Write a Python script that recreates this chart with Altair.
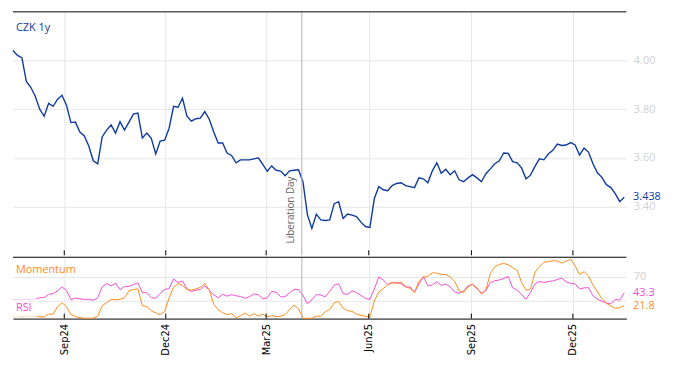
import altair as alt
import pandas as pd

# ---- data (one value every 4 days) ----
start_date = "2024-07-17"
end_date = "2026-01-18"
czk = [4.041, 4.021, 4.012, 3.914, 3.890, 3.853, 3.800, 3.771, 3.824, 3.812,
       3.841, 3.857, 3.816, 3.745, 3.747, 3.706, 3.690, 3.649, 3.588, 3.576,
       3.686, 3.714, 3.735, 3.702, 3.749, 3.714, 3.747, 3.780, 3.784, 3.682,
       3.702, 3.680, 3.616, 3.669, 3.673, 3.722, 3.812, 3.808, 3.845, 3.771,
       3.751, 3.761, 3.763, 3.790, 3.759, 3.706, 3.661, 3.661, 3.620, 3.610,
       3.580, 3.592, 3.592, 3.592, 3.596, 3.600, 3.573, 3.545, 3.567, 3.549,
       3.546, 3.527, 3.547, 3.549, 3.551, 3.502, 3.367, 3.310, 3.369, 3.345,
       3.343, 3.345, 3.412, 3.420, 3.351, 3.369, 3.365, 3.359, 3.336, 3.318,
       3.314, 3.433, 3.482, 3.469, 3.465, 3.486, 3.495, 3.498, 3.486, 3.482,
       3.478, 3.518, 3.514, 3.498, 3.547, 3.580, 3.537, 3.553, 3.531, 3.547,
       3.510, 3.502, 3.518, 3.531, 3.518, 3.502, 3.535, 3.555, 3.576, 3.588,
       3.620, 3.618, 3.585, 3.580, 3.559, 3.514, 3.529, 3.565, 3.596, 3.592,
       3.616, 3.631, 3.657, 3.651, 3.653, 3.663, 3.653, 3.612, 3.640, 3.624,
       3.576, 3.539, 3.520, 3.490, 3.478, 3.453, 3.420, 3.438]
rsi = [31.7, 32.5, 31.7, 33.3, 30.8, 33.3, 35.0, 35.5, 40.8, 42.0,
       46.7, 53.3, 47.5, 31.7, 34.5, 33.3, 32.2, 32.5, 30.8, 35.0,
       53.3, 59.2, 55.0, 59.7, 48.8, 53.7, 54.0, 57.3, 60.0, 44.2,
       43.3, 35.0, 34.2, 42.5, 49.2, 50.3, 66.7, 60.8, 63.3, 50.0,
       45.3, 48.0, 48.8, 55.0, 47.2, 40.0, 35.0, 40.8, 37.8, 40.3,
       38.3, 37.3, 34.2, 36.7, 41.7, 40.0, 33.3, 35.0, 45.8, 44.2,
       36.7, 36.7, 43.3, 49.2, 49.0, 39.2, 25.0, 31.7, 40.3, 39.7,
       36.7, 45.8, 56.2, 58.7, 41.7, 40.8, 46.7, 44.0, 39.2, 34.0,
       32.3, 50.0, 70.3, 65.0, 57.5, 60.0, 60.8, 58.8, 53.3, 53.3,
       44.2, 58.3, 70.8, 55.0, 56.7, 62.0, 55.8, 58.3, 53.3, 45.0,
       42.5, 46.7, 55.0, 57.5, 50.0, 43.3, 47.0, 60.7, 63.7, 65.0,
       67.5, 70.7, 52.0, 48.0, 40.8, 32.5, 44.2, 58.3, 62.5, 60.8,
       62.5, 63.3, 65.8, 68.3, 61.7, 59.2, 58.3, 50.0, 51.7, 52.0,
       38.3, 32.7, 29.2, 26.2, 24.7, 32.5, 30.8, 43.3]
mom = [3.3, 4.2, 2.5, 5.0, 3.3, 4.2, 3.3, 2.5, 7.5, 7.5,
       20.0, 26.7, 20.0, 6.7, 3.3, 1.7, 0.5, 0.5, 0.5, 4.2,
       21.7, 26.7, 32.2, 31.7, 32.5, 35.0, 46.7, 49.0, 50.0, 21.7,
       20.3, 13.3, 9.2, 6.7, 11.7, 35.0, 52.5, 58.8, 55.8, 49.2,
       48.0, 50.0, 52.5, 58.7, 48.3, 24.2, 15.0, 10.0, 6.7, 8.3,
       1.2, 5.0, 9.5, 4.2, 8.3, 4.5, 7.5, 2.8, 5.0, 3.3,
       3.8, 6.7, 15.0, 22.8, 16.7, 0.5, 0.5, 0.5, 4.2, 3.7,
       11.7, 15.3, 26.7, 28.7, 17.5, 13.3, 12.2, 7.5, 5.5, 4.0,
       2.2, 30.0, 45.0, 50.5, 57.2, 61.2, 59.0, 61.7, 54.2, 50.8,
       44.2, 62.8, 69.8, 71.3, 77.0, 76.7, 74.2, 74.3, 70.0, 62.8,
       47.0, 44.0, 53.3, 58.3, 51.7, 41.3, 48.3, 75.7, 87.3, 91.3,
       92.8, 90.7, 86.0, 81.3, 60.8, 47.5, 50.0, 77.8, 87.5, 94.5,
       96.0, 97.3, 97.3, 93.3, 96.7, 100.0, 88.7, 74.2, 79.0, 71.7,
       56.7, 45.0, 34.3, 25.7, 21.2, 17.2, 18.3, 21.8]
tick_dates = ["2024-09-01", "2024-12-01", "2025-03-01",
              "2025-06-01", "2025-09-01", "2025-12-01"]
lib_date = "2025-04-02"
czk_ticks = [3.4, 3.6, 3.8, 4.0]
ind_ticks = [30, 70]

BLUE = "#0f3a9e"
ORANGE = "#ff8c1a"
PINK = "#f54bd4"
GRID = "#e6e6e6"
LIGHT = "#d0d0d0"
FONT = "Open Sans"

W, H1, H2 = 620, 246, 62

dates = pd.date_range(start_date, periods=len(czk), freq="4D")
df = pd.DataFrame({"date": dates.strftime("%Y-%m-%dT00:00:00"),
                   "czk": czk, "rsi": rsi, "mom": mom})
last_df = df.iloc[[-1]]
ticks_df = pd.DataFrame({"date": [d + "T00:00:00" for d in tick_dates]})
lib_df = pd.DataFrame({"date": [lib_date + "T00:00:00"], "label": ["Liberation Day"]})
one = pd.DataFrame({"a": [0]})


def dt(s):
    t = pd.Timestamp(s)
    return alt.DateTime(year=t.year, month=t.month, date=t.day)


xscale = alt.Scale(domain=[dt(start_date), dt(end_date)])
tick_vals = [dt(s) for s in tick_dates]

# identical axis specs reused in every layer so that they merge cleanly
x_axis_top = alt.Axis(values=tick_vals, labels=False, ticks=False, domain=False,
                      grid=True, gridColor=GRID, title=None)
x_axis_bot = alt.Axis(values=tick_vals, format="%b%y", labelAngle=270,
                      labelAlign="right", labelBaseline="middle", labelPadding=5,
                      labelFontSize=10, labelFont="DejaVu Sans", labelColor="black",
                      ticks=False, domain=True, domainColor="black", domainWidth=1,
                      grid=True, gridColor=GRID, title=None)
y_axis_czk = alt.Axis(orient="right", values=czk_ticks, format=".2f",
                      labelColor=LIGHT, labelFontSize=11, labelFont=FONT,
                      labelPadding=7, domain=False, ticks=False, grid=True,
                      gridColor=GRID, title=None)
y_axis_ind = alt.Axis(orient="right", values=ind_ticks,
                      labelExpr="datum.value == 70 ? '70' : ''",
                      labelColor=LIGHT, labelFontSize=11, labelFont=FONT,
                      labelPadding=7, domain=False, ticks=False, grid=True,
                      gridColor=GRID, title=None)
yscale_czk = alt.Scale(domain=[3.2, 4.2], nice=False, zero=False)
yscale_ind = alt.Scale(domain=[0, 103.3], nice=False, zero=False)

xt = alt.X("date:T", scale=xscale, axis=x_axis_top)
xb = alt.X("date:T", scale=xscale, axis=x_axis_bot)

# ---------------- top panel ----------------
line_czk = alt.Chart(df).mark_line(color=BLUE, strokeWidth=1.4).encode(
    x=xt, y=alt.Y("czk:Q", scale=yscale_czk, axis=y_axis_czk))
lib_rule_top = alt.Chart(lib_df).mark_rule(color="#b3b3b3", strokeWidth=1).encode(x=xt)
lib_text = alt.Chart(lib_df).mark_text(angle=270, align="left", baseline="bottom",
                                       xOffset=-6, fontSize=10, font=FONT,
                                       color="#666666").encode(
    x=xt, y=alt.value(234), text="label:N")
last_czk = alt.Chart(last_df).mark_text(align="left", baseline="middle", xOffset=9,
                                        fontSize=11, font=FONT, color=BLUE).encode(
    x=xt, y=alt.Y("czk:Q", scale=yscale_czk, axis=y_axis_czk),
    text=alt.Text("czk:Q", format=".3f"))
title_top = alt.Chart(one).mark_text(align="left", baseline="middle", fontSize=11,
                                     font=FONT, color=BLUE).encode(
    x=alt.value(3), y=alt.value(16), text=alt.value("CZK 1y"))
border_top = alt.Chart(one).mark_rule(color="black", strokeWidth=1).encode(
    x=alt.value(0), x2=alt.value(W), y=alt.value(0))
ticks_top = alt.Chart(ticks_df).mark_rule(color="black").encode(
    x=xt, y=alt.value(H1 - 5), y2=alt.value(H1))

top = alt.layer(line_czk, lib_rule_top, lib_text, last_czk, title_top,
                border_top, ticks_top).properties(width=W, height=H1)

# ---------------- bottom panel ----------------
line_rsi = alt.Chart(df).mark_line(color=PINK, strokeWidth=1).encode(
    x=xb, y=alt.Y("rsi:Q", scale=yscale_ind, axis=y_axis_ind))
line_mom = alt.Chart(df).mark_line(color=ORANGE, strokeWidth=1).encode(
    x=xb, y=alt.Y("mom:Q", scale=yscale_ind, axis=y_axis_ind))
veil = alt.Chart(one).mark_rect(color="white", opacity=0.7).encode(
    x=alt.value(0), x2=alt.value(24), y=alt.value(33), y2=alt.value(61))
lib_rule_bot = alt.Chart(lib_df).mark_rule(color="#b3b3b3", strokeWidth=1).encode(x=xb)
lbl_mom = alt.Chart(one).mark_text(align="left", baseline="middle", fontSize=11,
                                   font=FONT, color=ORANGE).encode(
    x=alt.value(3), y=alt.value(13), text=alt.value("Momentum"))
lbl_rsi = alt.Chart(one).mark_text(align="left", baseline="middle", fontSize=11,
                                   font=FONT, color=PINK).encode(
    x=alt.value(3), y=alt.value(51), text=alt.value("RSI"))
last_rsi = alt.Chart(last_df).mark_text(align="left", baseline="middle", xOffset=9,
                                        fontSize=11, font=FONT, color=PINK).encode(
    x=xb, y=alt.Y("rsi:Q", scale=yscale_ind, axis=y_axis_ind),
    text=alt.Text("rsi:Q", format=".1f"))
last_mom = alt.Chart(last_df).mark_text(align="left", baseline="middle", xOffset=9,
                                        fontSize=11, font=FONT, color=ORANGE).encode(
    x=xb, y=alt.Y("mom:Q", scale=yscale_ind, axis=y_axis_ind),
    text=alt.Text("mom:Q", format=".1f"))
border_mid = alt.Chart(one).mark_rule(color="black", strokeWidth=1).encode(
    x=alt.value(0), x2=alt.value(W), y=alt.value(0))
ticks_bot = alt.Chart(ticks_df).mark_rule(color="black").encode(
    x=xb, y=alt.value(H2 - 5), y2=alt.value(H2))

bottom = alt.layer(line_rsi, line_mom, veil, lib_rule_bot, lbl_mom, lbl_rsi,
                   last_rsi, last_mom, border_mid, ticks_bot).properties(width=W, height=H2)

chart = alt.vconcat(top, bottom, spacing=0).properties(
    padding={"left": 2, "top": 1, "right": 5, "bottom": 5}
).configure_view(stroke=None)

chart.save("out.html", embed_options={"renderer": "svg", "actions": False})
